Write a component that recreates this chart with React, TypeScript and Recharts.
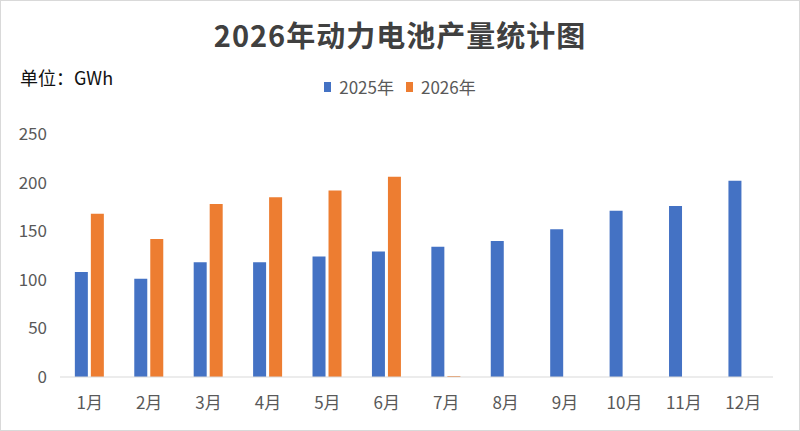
import React from 'react';
import { BarChart, Bar, XAxis, YAxis, Legend } from 'recharts';

const months = ['1月', '2月', '3月', '4月', '5月', '6月', '7月', '8月', '9月', '10月', '11月', '12月'];
const output2025 = [108, 101, 118, 118, 124, 129, 134, 140, 152, 171, 176, 202];
const output2026 = [168, 142, 178, 185, 192, 206, 1, null, null, null, null, null];
const yTicks = [0, 50, 100, 150, 200, 250];

const data = months.map((month, i) => ({
  month,
  y2025: output2025[i],
  y2026: output2026[i],
}));

const FONT = '"Noto Sans CJK SC", "Noto Sans", sans-serif';
const GRAY = '#595959';

const renderLegend = ({ payload }: any) => (
  <div style={{ display: 'flex', justifyContent: 'center', fontFamily: FONT, fontSize: 17, color: GRAY, lineHeight: '22px' }}>
    {(payload || []).map((entry: any) => (
      <span key={entry.value} style={{ display: 'flex', alignItems: 'center', margin: '0 6px' }}>
        <span style={{ display: 'inline-block', width: 7, height: 10, background: entry.color, marginRight: 8 }} />
        {entry.value}
      </span>
    ))}
  </div>
);

const App = () => {
  return (
    <div style={{ position: 'absolute', left: 0, top: 0, width: 800, height: 431, background: '#fff', fontFamily: FONT }}>
      <div
        style={{
          position: 'absolute', left: 0, top: 15, width: 800, textAlign: 'center',
          fontSize: 29, fontWeight: 700, color: '#404040', letterSpacing: 1, lineHeight: '38px',
        }}
      >
        2026年动力电池产量统计图
      </div>
      <div style={{ position: 'absolute', left: 20, top: 66, fontSize: 18, color: '#111', lineHeight: '22px' }}>
        单位：GWh
      </div>
      <BarChart
        width={800}
        height={431}
        data={data}
        margin={{ top: 134, right: 27, left: 0, bottom: 24 }}
        barCategoryGap="25%"
        barGap={3}
      >
        <XAxis
          dataKey="month"
          tick={{ fill: GRAY, fontSize: 17, fontFamily: FONT }}
          tickLine={false}
          tickMargin={14}
          axisLine={{ stroke: '#d9d9d9' }}
          interval={0}
        />
        <YAxis
          width={60}
          domain={[0, 250]}
          ticks={yTicks}
          tick={{ fill: GRAY, fontSize: 17, fontFamily: FONT }}
          tickLine={false}
          tickMargin={7}
          axisLine={false}
        />
        <Legend
          verticalAlign="middle"
          align="center"
          content={renderLegend}
          wrapperStyle={{ top: 76, left: 0, width: 800 }}
        />
        <Bar dataKey="y2025" name="2025年" fill="#4472C4" isAnimationActive={false} />
        <Bar dataKey="y2026" name="2026年" fill="#ED7D31" isAnimationActive={false} />
      </BarChart>
      <div
        style={{
          position: 'absolute', left: 0, top: 0, width: 800, height: 431,
          boxSizing: 'border-box', border: '1px solid #d9d9d9', pointerEvents: 'none',
        }}
      />
    </div>
  );
};

export default App;
